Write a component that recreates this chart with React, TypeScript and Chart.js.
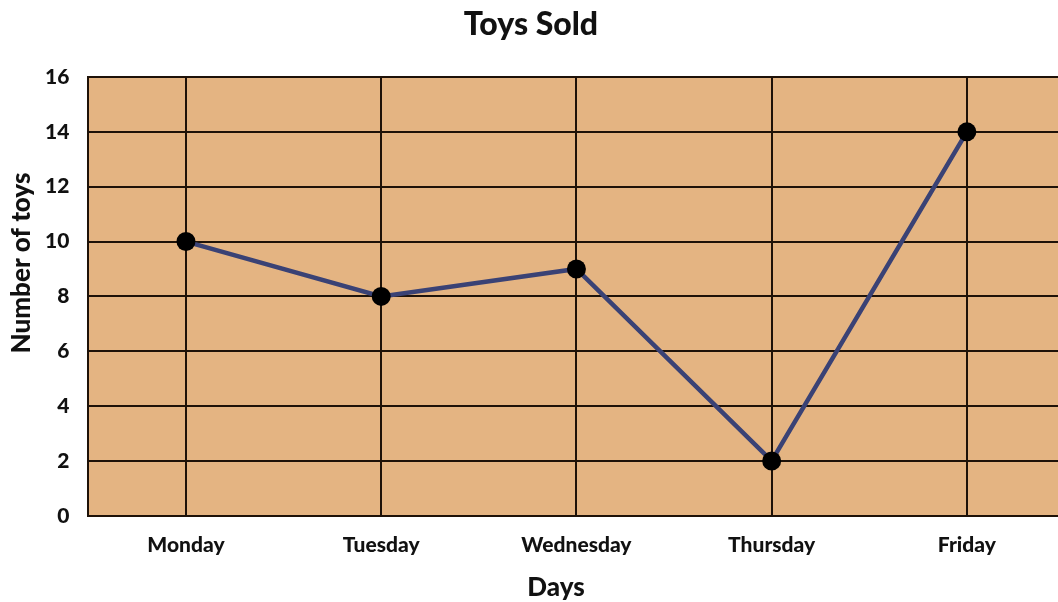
import React, { useEffect, useRef } from "react";
import { Chart, registerables } from "chart.js";

Chart.register(...registerables);

const days = ["Monday", "Tuesday", "Wednesday", "Thursday", "Friday"];
const toysSold = [10, 8, 9, 2, 14];
const yMin = 0;
const yMax = 16;
const yStep = 2;
const chartTitle = "Toys Sold";
const xTitle = "Days";
const yTitle = "Number of toys";

const FONT = "Lato, 'Open Sans', sans-serif";

const plotBg = {
  id: "plotBg",
  beforeDraw(chart: any) {
    const { ctx, chartArea } = chart;
    if (!chartArea) return;
    ctx.save();
    ctx.fillStyle = "#E4B482";
    ctx.fillRect(chartArea.left, chartArea.top, chartArea.right - chartArea.left, chartArea.bottom - chartArea.top);
    ctx.restore();
  },
};

const titles = {
  id: "titles",
  afterDraw(chart: any) {
    const { ctx } = chart;
    ctx.save();
    ctx.fillStyle = "#111111";
    ctx.textAlign = "center";
    ctx.textBaseline = "middle";
    ctx.font = `900 32px ${FONT}`;
    ctx.fillText(chartTitle, 531, 25);
    ctx.font = `900 26px ${FONT}`;
    ctx.fillText(xTitle, 556, 588);
    ctx.translate(22, 263);
    ctx.rotate(-Math.PI / 2);
    ctx.fillText(yTitle, 0, 0);
    ctx.restore();
  },
};

export default function App() {
  const ref = useRef<HTMLCanvasElement | null>(null);
  useEffect(() => {
    if (!ref.current) return;
    const chart = new Chart(ref.current, {
      type: "line",
      data: {
        labels: days,
        datasets: [
          {
            label: chartTitle,
            data: toysSold,
            borderColor: "#3A4275",
            borderWidth: 4.5,
            pointBackgroundColor: "#000000",
            pointBorderColor: "#000000",
            pointRadius: 9.5,
            pointBorderWidth: 0,
            tension: 0,
          },
        ],
      },
      options: {
        responsive: false,
        animation: false,
        layout: { padding: { left: 26, right: 0, top: 77, bottom: 27 } },
        plugins: {
          legend: { display: false },
          tooltip: { enabled: false },
          title: { display: false },
        },
        scales: {
          x: {
            type: "category",
            offset: true,
            grid: { offset: false, color: "#1E1208", lineWidth: 2, drawTicks: false },
            border: { color: "#1E1208", width: 2 },
            ticks: {
              color: "#111111",
              font: { family: FONT, size: 21, weight: "900" },
              padding: 17,
            },
          },
          y: {
            min: yMin,
            max: yMax,
            grid: { color: "#1E1208", lineWidth: 2, drawTicks: false },
            border: { color: "#1E1208", width: 2 },
            ticks: {
              stepSize: yStep,
              color: "#111111",
              font: { family: FONT, size: 21, weight: "900" },
              padding: 19,
            },
          },
        },
      },
      plugins: [plotBg, titles],
    });
    return () => chart.destroy();
  }, []);
  return (
    <div style={{ position: "fixed", left: 0, top: 0, width: 1058, height: 602, overflow: "hidden", background: "#ffffff" }}>
      <canvas ref={ref} width={1074} height={602} style={{ display: "block", width: 1074, height: 602 }} />
    </div>
  );
}
